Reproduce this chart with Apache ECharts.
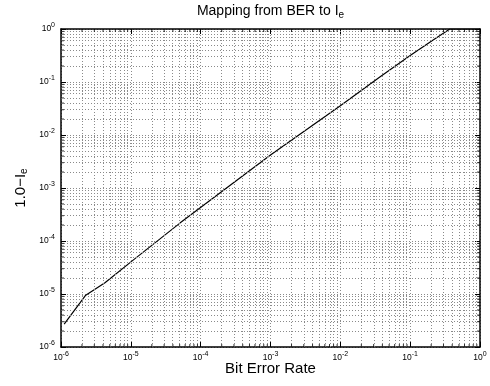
<!DOCTYPE html>
<html>
<head>
<meta charset="utf-8">
<script src="https://cdn.jsdelivr.net/npm/echarts@6/dist/echarts.min.js"></script>
<style>
  html, body { margin: 0; padding: 0; background: #fff; }
  #chart { width: 490px; height: 386px; }
</style>
</head>
<body>
<div id="chart"></div>
<script>
// BER -> 1.0 - Ie
const berValues = [1.11e-6, 2.26e-6, 4.26e-6, 1.09e-5, 5.1e-5, 1e-3, 1e-2, 3.72e-2, 0.1, 0.216, 0.37, 1];
const oneMinusIe = [2.7e-6, 9.5e-6, 1.63e-5, 4.4e-5, 2.2e-4, 4.2e-3, 3.55e-2, 0.126, 0.316, 0.63, 1.0, 1.0];

// log axis decades and the minor grid factors inside each decade
const decades = [-6, -5, -4, -3, -2, -1];
const minorFactors = [2, 3, 4, 5, 6, 7, 8, 9];

const FONT = '"Liberation Sans", Arial, Helvetica, sans-serif';
const gridColor = '#8a8a8a';

const log10 = v => Math.log10(v);

// minor positions in log space (2..9 x 10^d)
const minorPos = [];
decades.forEach(d => minorFactors.forEach(k => minorPos.push(d + log10(k))));

const lineData = berValues.map((x, i) => [log10(x), log10(oneMinusIe[i])]);

const powLabel = v => '{b|10}{s|' + Math.round(v) + '}';
const powRich = {
  b: { fontSize: 8.5, lineHeight: 14, color: '#000', fontFamily: FONT },
  s: { fontSize: 7, lineHeight: 7, verticalAlign: 'top', color: '#000', fontFamily: FONT }
};

const dotted = { color: gridColor, width: 1, type: [1, 2] };

function mainAxis(pos, showLabel) {
  return {
    type: 'value',
    position: pos,
    min: -6,
    max: 0,
    interval: 1,
    axisLine: { show: true, onZero: false, lineStyle: { color: '#000', width: 1.5 } },
    axisTick: { show: true, inside: true, length: 5, lineStyle: { color: '#000', width: 1 } },
    axisLabel: showLabel ? {
      show: true,
      formatter: powLabel,
      rich: powRich
    } : { show: false },
    splitLine: showLabel ? { show: true, lineStyle: dotted } : { show: false },
    nameMoveOverlap: false
  };
}

const subRich = (size, lh) => ({
  t: { fontSize: size, lineHeight: lh, verticalAlign: 'top', color: '#000', fontFamily: FONT },
  sub: { fontSize: 10, lineHeight: 12, padding: [8, 0, 0, 0], color: '#000', fontFamily: FONT }
});

const xBottom = Object.assign(mainAxis('bottom', true), {
  name: 'Bit Error Rate',
  nameLocation: 'middle',
  nameGap: 13,
  nameTextStyle: { fontSize: 15, lineHeight: 17, color: '#000', fontFamily: FONT }
});
xBottom.axisLabel.margin = 4;

const xTop = Object.assign(mainAxis('top', false), {
  name: '{t|Mapping from BER to I}{sub|e}',
  nameLocation: 'middle',
  nameGap: 11,
  nameTextStyle: { rich: subRich(14, 14) }
});

const yLeft = Object.assign(mainAxis('left', true), {
  name: '{t|1.0\u2212I}{sub|e}',
  nameLocation: 'middle',
  nameRotate: 90,
  nameGap: 33,
  nameTextStyle: { rich: subRich(15, 15) }
});
yLeft.axisLabel.margin = 6;

const yRight = mainAxis('right', false);

// small inward minor ticks on the four box edges
function minorTickSeries(data, size, offset) {
  return {
    type: 'scatter',
    data: data,
    symbol: 'rect',
    symbolSize: size,
    symbolOffset: offset,
    itemStyle: { color: '#000' },
    silent: true,
    clip: false,
    z: 5
  };
}

const chart = echarts.init(document.getElementById('chart'));

chart.setOption({
  animation: false,
  backgroundColor: '#fff',
  textStyle: { fontFamily: FONT },
  grid: { left: 61, right: 10, top: 29, bottom: 39, containLabel: false, outerBoundsMode: 'none' },
  xAxis: [xBottom, xTop],
  yAxis: [yLeft, yRight],
  series: [
    {
      type: 'line',
      data: lineData,
      showSymbol: false,
      symbol: 'none',
      lineStyle: { color: '#000', width: 1.2 },
      silent: true,
      z: 4,
      markLine: {
        silent: true,
        symbol: ['none', 'none'],
        label: { show: false },
        lineStyle: dotted,
        animation: false,
        data: minorPos.map(v => ({ xAxis: v })).concat(minorPos.map(v => ({ yAxis: v })))
      }
    },
    minorTickSeries(minorPos.map(v => [v, -6]), [1, 3], [0, -1.5]),
    minorTickSeries(minorPos.map(v => [v, 0]), [1, 3], [0, 1.5]),
    minorTickSeries(minorPos.map(v => [-6, v]), [3, 1], [1.5, 0]),
    minorTickSeries(minorPos.map(v => [0, v]), [3, 1], [-1.5, 0])
  ]
});
</script>
</body>
</html>
